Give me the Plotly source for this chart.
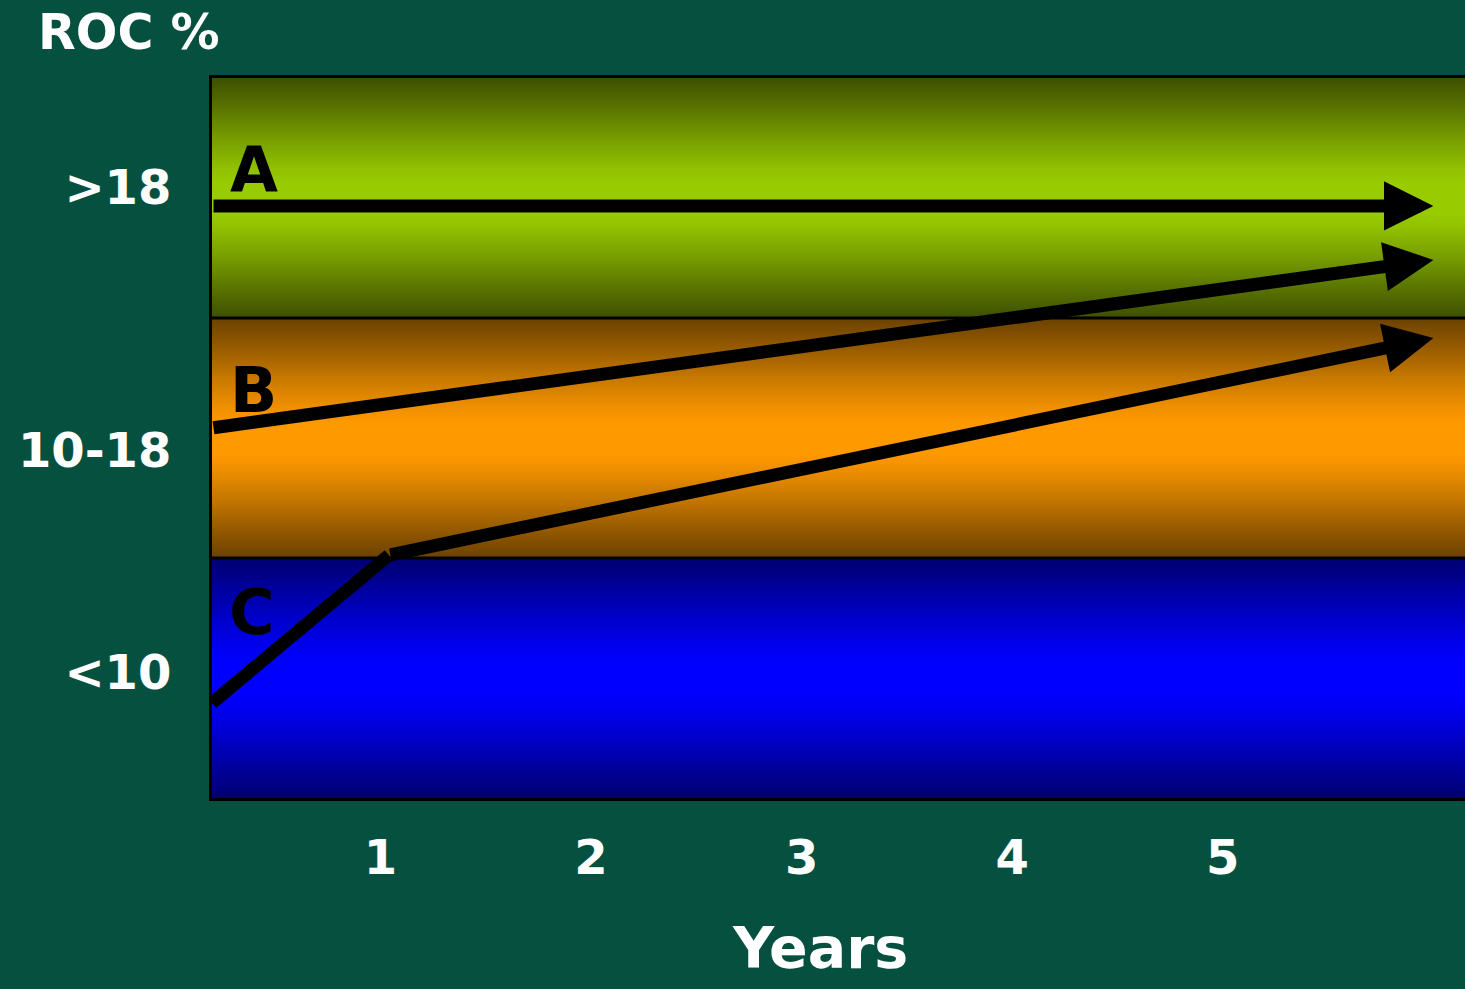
import numpy as np
import plotly.graph_objects as go

# ---- data ----
year_ticks = [1, 2, 3, 4, 5]
year_labels = ["1", "2", "3", "4", "5"]
roc_labels = ["<10", "10-18", ">18"]
roc_label_pos = [0.525, 1.45, 2.546]
band_edges = [0, 1, 2, 3]
band_dark = ["#000070", "#6B4100", "#3E4F00"]
band_bright = ["#0000FF", "#FF9900", "#99CC00"]

series_names = ["A", "B", "C"]
series_x = [[0.2, 6.0], [0.2, 6.0], [0.2, 1.04, 6.0]]
series_y = [[2.467, 2.467], [1.542, 2.242], [0.396, 1.012, 1.917]]
label_x = [0.40, 0.395, 0.39]
label_y = [2.617, 1.70, 0.775]

X_RANGE = [0.2, 6.15]
BG = "#06503F"
FONT = "DejaVu Sans"


def mix(c1, c2, f):
    a = [int(c1[i:i + 2], 16) for i in (1, 3, 5)]
    b = [int(c2[i:i + 2], 16) for i in (1, 3, 5)]
    return "rgb(%d,%d,%d)" % tuple(round(a[k] + (b[k] - a[k]) * f) for k in range(3))


fig = go.Figure()

# gradient bands (dark edges, bright centre)
n_rows = 120
for i in range(3):
    y0, y1 = band_edges[i], band_edges[i + 1]
    edges = np.linspace(y0, y1, n_rows + 1)
    mids = (edges[:-1] + edges[1:]) / 2
    t = 1 - np.abs(2 * (mids - (y0 + y1) / 2) / (y1 - y0))
    d, b = band_dark[i], band_bright[i]
    fig.add_trace(go.Heatmap(
        x=[X_RANGE[0], X_RANGE[1]], y=edges, z=t.reshape(-1, 1),
        colorscale=[[0, d], [0.25, mix(d, b, 0.3)], [0.5, mix(d, b, 0.62)],
                    [0.75, mix(d, b, 0.9)], [0.88, b], [1, b]],
        zmin=0, zmax=1, showscale=False, hoverinfo="skip",
    ))

# band boundaries
for e in band_edges[1:-1]:
    fig.add_hline(y=e, line=dict(color="black", width=3))

# series lines
for name, xs, ys in zip(series_names, series_x, series_y):
    if len(xs) > 2:
        fig.add_trace(go.Scatter(x=xs[:-1], y=ys[:-1], mode="lines",
                                 line=dict(color="black", width=13),
                                 showlegend=False, hoverinfo="skip"))
    fig.add_annotation(x=xs[-1], y=ys[-1], ax=xs[-2], ay=ys[-2],
                       xref="x", yref="y", axref="x", ayref="y",
                       text="", showarrow=True, arrowhead=2, arrowsize=0.76,
                       arrowwidth=13, arrowcolor="black")

for name, lx, ly in zip(series_names, label_x, label_y):
    fig.add_annotation(x=lx, y=ly, xref="x", yref="y", text=name, showarrow=False,
                       font=dict(family=FONT, size=62, color="black", weight="bold"))

fig.add_annotation(x=3.087, y=-0.161, xref="x", yref="paper", yanchor="top",
                   text="Years", showarrow=False, borderpad=0,
                   font=dict(family=FONT, size=57, color="white", weight="bold"))

fig.update_layout(
    width=1465, height=989,
    margin=dict(l=212, r=0, t=78, b=191),
    paper_bgcolor=BG, plot_bgcolor=BG,
    showlegend=False,
    title=dict(text="ROC %", x=38 / 1465, xref="container", xanchor="left",
               y=1 - 32 / 989, yref="container", yanchor="middle",
               font=dict(family=FONT, size=49, color="white", weight="bold")),
    xaxis=dict(range=X_RANGE, tickvals=year_ticks, ticktext=year_labels,
               showgrid=False, zeroline=False, showline=True, linecolor="black",
               linewidth=3, mirror=True, ticks="", ticklabelstandoff=15,
               tickfont=dict(family=FONT, size=48, color="white", weight="bold")),
    yaxis=dict(range=[band_edges[0], band_edges[-1]], tickvals=roc_label_pos, ticktext=roc_labels,
               showgrid=False, zeroline=False, showline=True, linecolor="black",
               linewidth=3, mirror=False, ticks="", ticklabelstandoff=28,
               tickfont=dict(family=FONT, size=48, color="white", weight="bold")),
)

fig.write_html("out.html")
